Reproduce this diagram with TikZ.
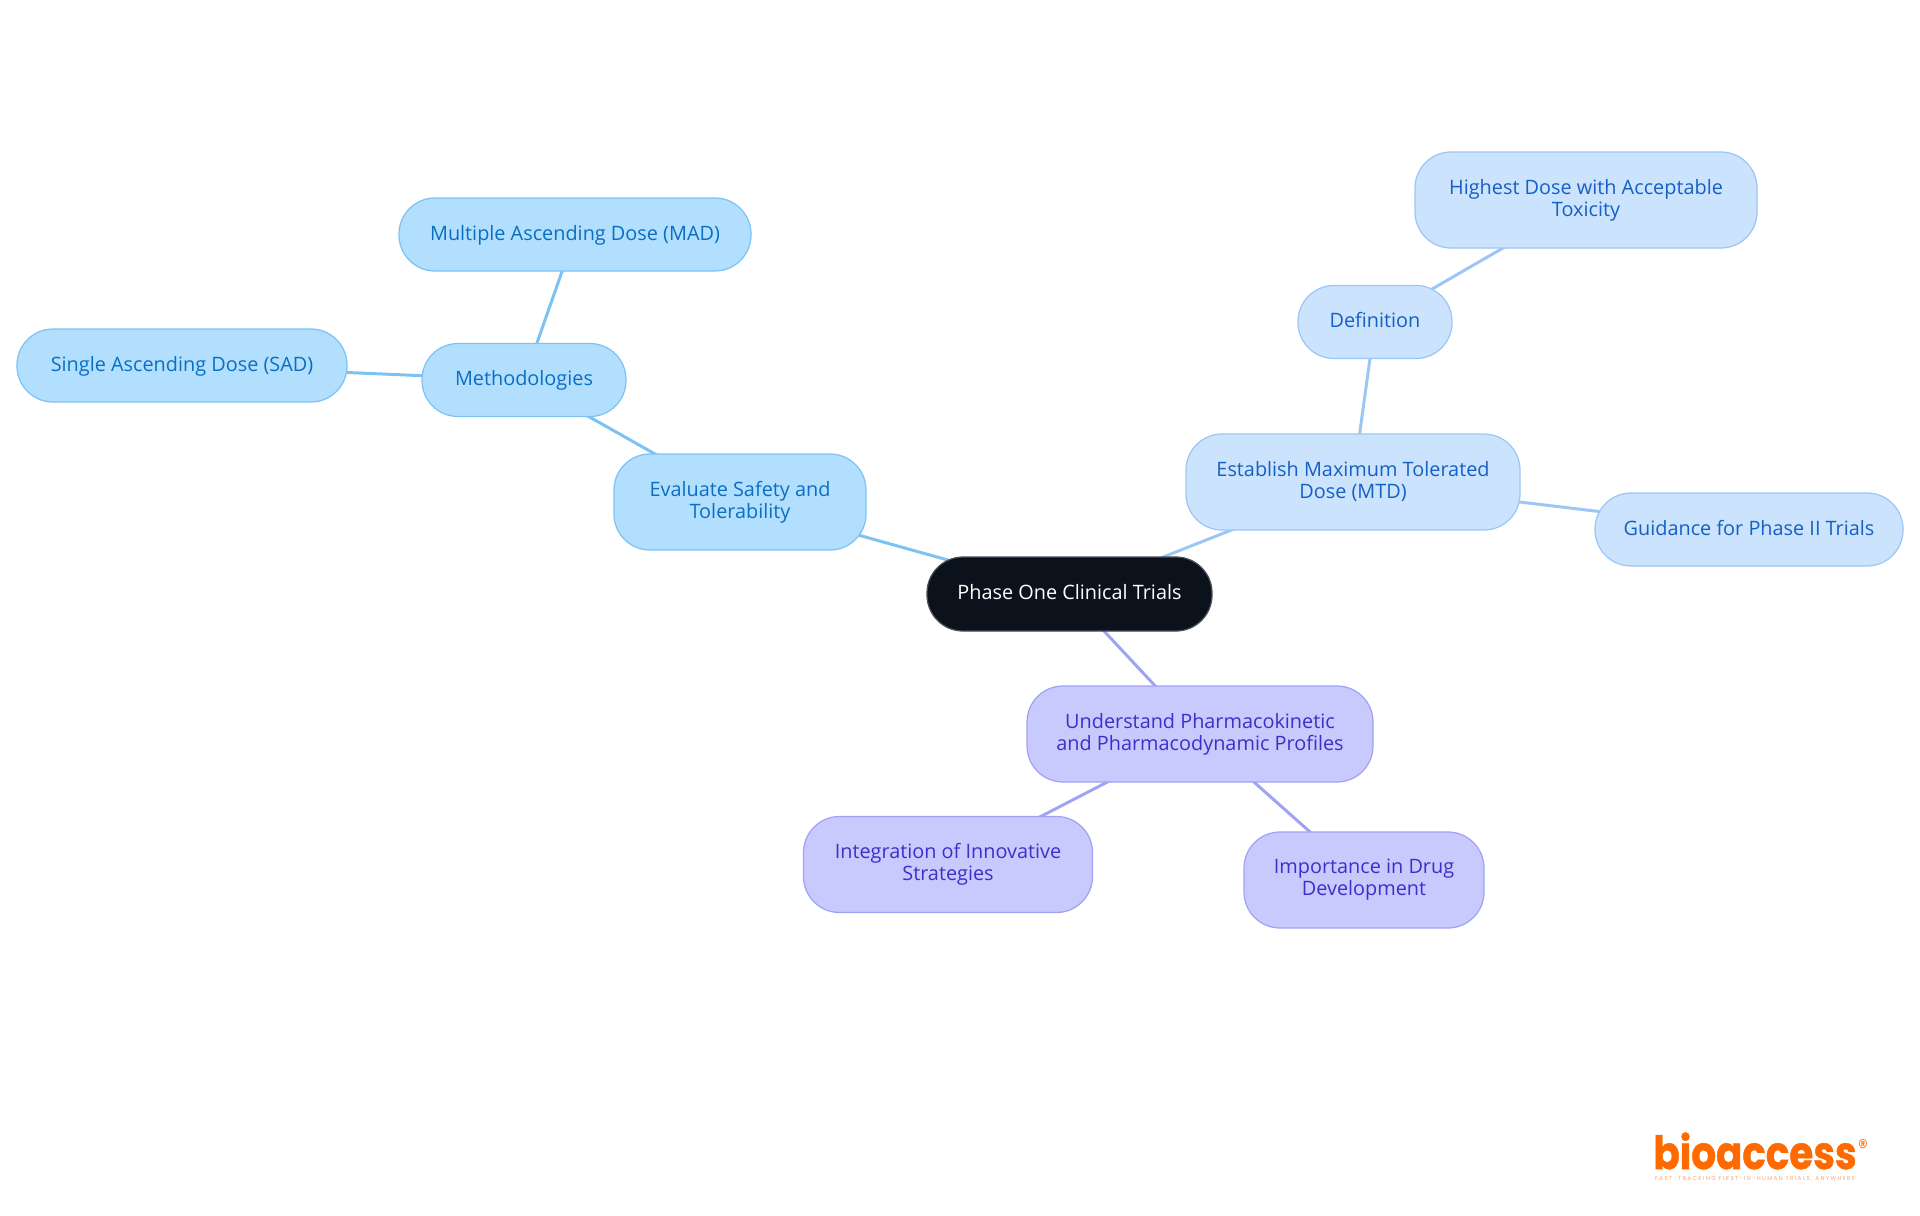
\documentclass[tikz,border=0pt]{standalone}
\usepackage{fontspec}
\setmainfont{Open Sans}
\newfontfamily\logofont[FakeStretch=0.85,BoldFeatures={FakeBold=1}]{Poppins}
\newfontfamily\tagfont[LetterSpace=25]{Poppins}
\usepackage{xcolor}
\usetikzlibrary{backgrounds}
\definecolor{rootfill}{HTML}{0B121B}
\definecolor{rootedge}{HTML}{4A5058}
\definecolor{skyfill}{HTML}{B3DFFF}
\definecolor{skyedge}{HTML}{7CC2F3}
\definecolor{skytext}{HTML}{0A6FC2}
\definecolor{bluefill}{HTML}{CCE3FD}
\definecolor{blueedge}{HTML}{9CC6F5}
\definecolor{bluetext}{HTML}{1560C4}
\definecolor{violetfill}{HTML}{C8CAFE}
\definecolor{violetedge}{HTML}{A0A3F5}
\definecolor{violettext}{HTML}{3B30C9}
\definecolor{logoorange}{HTML}{FF6A00}
\tikzset{
    topic/.style={rectangle, rounded corners=0.72cm, line width=0.7pt, align=center, font=\fontsize{11.3}{12.5}\selectfont, inner sep=0pt},
    oneline/.style={text height=8.6pt, text depth=1.8pt},
    root/.style={topic, draw=rootedge, fill=rootfill, text=white},
    sky/.style={topic, draw=skyedge, fill=skyfill, text=skytext},
    bluebox/.style={topic, draw=blueedge, fill=bluefill, text=bluetext},
    violet/.style={topic, draw=violetedge, fill=violetfill, text=violettext},
    skyline/.style={draw=skyedge, line width=1.7pt},
    blueline/.style={draw=blueedge, line width=1.7pt},
    violetline/.style={draw=violetedge, line width=1.7pt}
}
\begin{document}
\begin{tikzpicture}
    \useasboundingbox (0,0) rectangle (38.4,-24.3);

    % Root
    \node[root, oneline, minimum width=5.70cm, minimum height=1.48cm] (Phase) at (21.39,-11.88) {Phase One Clinical Trials};

    % --- Left branch ---
    \node[sky, minimum width=5.04cm, minimum height=1.92cm] (Safety) at (14.80,-10.04) {Evaluate Safety and\\Tolerability};
    \node[sky, oneline, minimum width=4.08cm, minimum height=1.46cm] (Methods) at (10.48,-7.60) {Methodologies};
    \node[sky, oneline, minimum width=7.04cm, minimum height=1.46cm] (MAD) at (11.50,-4.69) {Multiple Ascending Dose (MAD)};
    \node[sky, oneline, minimum width=6.60cm, minimum height=1.46cm] (SAD) at (3.64,-7.31) {Single Ascending Dose (SAD)};

    % --- Right branch ---
    \node[bluebox, minimum width=6.68cm, minimum height=1.92cm] (MTD) at (27.06,-9.64) {Establish Maximum Tolerated\\Dose (MTD)};
    \node[bluebox, oneline, minimum width=3.08cm, minimum height=1.46cm] (Definition) at (27.50,-6.44) {Definition};
    \node[bluebox, minimum width=6.84cm, minimum height=1.92cm] (Highest) at (31.72,-4.00) {Highest Dose with Acceptable\\Toxicity};
    \node[bluebox, oneline, minimum width=6.16cm, minimum height=1.46cm] (Guidance) at (34.98,-10.59) {Guidance for Phase II Trials};

    % --- Lower branch ---
    \node[violet, minimum width=6.92cm, minimum height=1.92cm] (Profiles) at (24.00,-14.68) {Understand Pharmacokinetic\\and Pharmacodynamic Profiles};
    \node[violet, minimum width=5.78cm, minimum height=1.92cm] (Strategies) at (18.96,-17.29) {Integration of Innovative\\Strategies};
    \node[violet, minimum width=4.80cm, minimum height=1.92cm] (Drug) at (27.28,-17.60) {Importance in Drug\\Development};

    % Connectors run behind the boxes
    \begin{scope}[on background layer]
        \draw[skyline] (Phase.center) -- (Safety.center);
        \draw[skyline] (Safety.center) -- (Methods.center);
        \draw[skyline] (Methods.center) -- (MAD.center);
        \draw[skyline] (Methods.center) -- (SAD.center);
        \draw[blueline] (Phase.center) -- (MTD.center);
        \draw[blueline] (MTD.center) -- (Definition.center);
        \draw[blueline] (Definition.center) -- (Highest.center);
        \draw[blueline] (MTD.center) -- (Guidance.center);
        \draw[violetline] (Phase.center) -- (Profiles.center);
        \draw[violetline] (Profiles.center) -- (Strategies.center);
        \draw[violetline] (Profiles.center) -- (Drug.center);
    \end{scope}

    % Logo
    \node[inner sep=0pt, anchor=base, text=logoorange, font=\logofont\bfseries\fontsize{26}{26}\selectfont] (Logo) at (35.1,-23.38) {bioaccess};
    \node[inner sep=0pt, text=logoorange, font=\logofont\fontsize{13}{13}\selectfont] (Reg) at (37.26,-22.95) {®};
    \node[inner sep=0pt, anchor=base, text=logoorange!60, font=\tagfont\fontsize{3.2}{4}\selectfont] (Tagline) at (35.1,-23.6) {FAST-TRACKING FIRST-IN-HUMAN TRIALS, ANYWHERE};
\end{tikzpicture}
\end{document}
